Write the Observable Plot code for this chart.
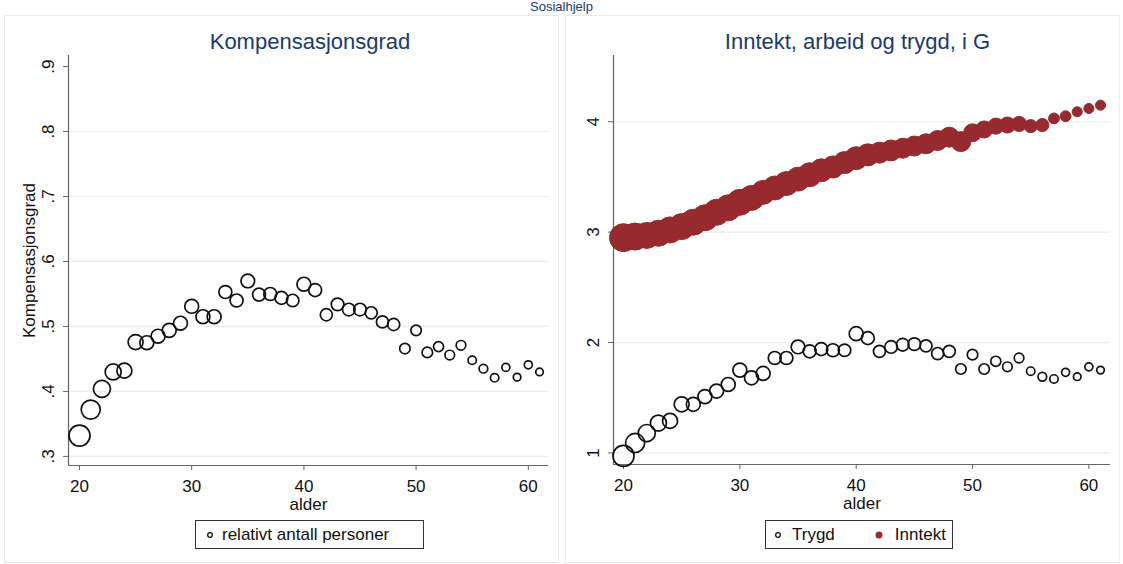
<!DOCTYPE html>
<html>
<head>
<meta charset="utf-8">
<script src="https://cdn.jsdelivr.net/npm/d3@7"></script>
<script src="https://cdn.jsdelivr.net/npm/@observablehq/plot@0.6"></script>
<style>
  html, body { margin: 0; padding: 0; background: #ffffff; }
  body { width: 1123px; height: 564px; position: relative; overflow: hidden; font-family: "Liberation Sans", Arial, sans-serif; }
  .abs { position: absolute; }
  .panel { position: absolute; border: 1px solid #ebebeb; }
  .title { position: absolute; width: 1123px; text-align: center; top: 0px; font-size: 13px; line-height: 14px; color: #1a3b6b; }
  .sub { position: absolute; text-align: center; font-size: 22px; color: #1a3b6b; }
  .legend { position: absolute; border: 1px solid #333; background: #fff; font-size: 17px; color: #111; box-sizing: border-box; display: flex; align-items: center; }
  .legend svg { display: block; }
</style>
</head>
<body>
<div class="panel" style="left:4px; top:15px; width:553px; height:546px;"></div>
<div class="panel" style="left:565px; top:15px; width:553px; height:546px;"></div>
<div class="title">Sosialhjelp</div>
<div class="sub" style="left:60px; width:500px; top:29px;">Kompensasjonsgrad</div>
<div class="sub" style="left:600px; width:515px; top:29px;">Inntekt, arbeid og trygd, i G</div>
<div id="left" class="abs" style="left:0px; top:52px;"></div>
<div id="right" class="abs" style="left:560px; top:52px;"></div>
<div class="legend" style="left:195px; top:520px; width:229px; height:29px;">
  <svg width="22" height="20" style="margin-left:4px"><circle cx="10" cy="10" r="2.3" fill="none" stroke="#111" stroke-width="1.3"/></svg>
  <span style="margin-left:0px">relativt antall personer</span>
</div>
<div class="legend" style="left:765px; top:520px; width:188px; height:29px;">
  <svg width="24" height="20" style="margin-left:2px"><circle cx="10" cy="10" r="2.3" fill="none" stroke="#111" stroke-width="1.3"/></svg>
  <span>Trygd</span>
  <svg width="24" height="20" style="margin-left:34px"><circle cx="10" cy="10" r="3.5" fill="#962a2f"/></svg>
  <span style="margin-left:2px">Inntekt</span>
</div>
<script>
// Age categories
const alder = [20,21,22,23,24,25,26,27,28,29,30,31,32,33,34,35,36,37,38,39,40,41,42,43,44,45,46,47,48,49,50,51,52,53,54,55,56,57,58,59,60,61];
// Kompensasjonsgrad (left panel)
const kompensasjonsgrad = [0.332,0.372,0.404,0.430,0.432,0.476,0.475,0.485,0.494,0.505,0.531,0.515,0.515,0.553,0.540,0.570,0.549,0.550,0.544,0.540,0.565,0.556,0.518,0.534,0.526,0.526,0.521,0.507,0.503,0.466,0.494,0.460,0.469,0.456,0.471,0.448,0.435,0.421,0.437,0.422,0.441,0.430];
// Trygd, in G (right panel)
const trygd = [0.973,1.09,1.18,1.27,1.29,1.44,1.44,1.51,1.56,1.62,1.75,1.68,1.72,1.86,1.86,1.96,1.92,1.94,1.93,1.93,2.08,2.04,1.92,1.96,1.98,1.985,1.97,1.90,1.92,1.76,1.89,1.76,1.83,1.78,1.86,1.74,1.69,1.67,1.73,1.69,1.78,1.75];
// Inntekt, in G (right panel)
const inntekt = [2.95,2.96,2.97,2.99,3.02,3.05,3.09,3.13,3.18,3.22,3.27,3.31,3.36,3.40,3.44,3.48,3.52,3.56,3.59,3.63,3.67,3.70,3.72,3.74,3.76,3.78,3.80,3.83,3.86,3.82,3.90,3.93,3.96,3.97,3.98,3.96,3.97,4.03,4.05,4.09,4.12,4.15];
// Relative number of persons (marker weight, hollow circles)
const relativtAntall = [1.00,0.82,0.66,0.58,0.51,0.51,0.44,0.44,0.44,0.44,0.44,0.44,0.44,0.38,0.38,0.42,0.38,0.38,0.38,0.35,0.44,0.38,0.33,0.36,0.36,0.36,0.33,0.33,0.33,0.25,0.25,0.25,0.23,0.21,0.21,0.16,0.17,0.16,0.145,0.13,0.145,0.13];
// Relative marker weight of the Inntekt dots
const inntektVekt = [1.00,0.93,0.86,0.86,0.86,0.86,0.86,0.86,0.86,0.86,0.86,0.80,0.73,0.73,0.73,0.73,0.73,0.67,0.62,0.62,0.67,0.62,0.56,0.56,0.51,0.51,0.51,0.51,0.51,0.51,0.41,0.37,0.33,0.33,0.29,0.22,0.22,0.15,0.15,0.13,0.13,0.13];

const xTicks = [20,30,40,50,60];
const yTicksLeft = [0.3,0.4,0.5,0.6,0.7,0.8,0.9];
const yTicksRight = [1,2,3,4];

const rows = alder.map((a, i) => ({alder: a, komp: kompensasjonsgrad[i], trygd: trygd[i], inntekt: inntekt[i], w: relativtAntall[i], iw: inntektVekt[i]}));

const font = {fontFamily: "'Liberation Sans', Arial, sans-serif", fontSize: "17px", color: "#111", background: "transparent"};
const axisCol = "#666";
const gridCol = "#ececec";
const red = "#962a2f";

// Left panel
const lx = [19.02, 61.8], ly = [0.286, 0.917];
const left = Plot.plot({
  width: 560, height: 460,
  marginLeft: 68, marginRight: 12, marginTop: 3, marginBottom: 47,
  style: font,
  x: {domain: lx},
  y: {domain: ly},
  r: {type: "sqrt", domain: [0, 1], range: [0, 10.5]},
  marks: [
    Plot.gridY(yTicksLeft.slice(0, -1), {stroke: gridCol, strokeOpacity: 1, strokeWidth: 1.2}),
    Plot.axisY(yTicksLeft, {tickFormat: d => d3.format(".1f")(d).replace(/^0/, ""), tickRotate: -90, tickSize: 5, tickPadding: 10, stroke: axisCol, label: "Kompensasjonsgrad", labelAnchor: "center", labelArrow: "none", labelOffset: 46, fontSize: 17}),
    Plot.axisX(xTicks, {tickFormat: d => String(d), tickSize: 5, tickPadding: 9, stroke: axisCol, label: "alder", labelAnchor: "center", labelArrow: "none", labelOffset: 44}),
    Plot.ruleX([lx[0]], {stroke: axisCol, strokeWidth: 1.2}),
    Plot.ruleY([ly[0]], {stroke: axisCol, strokeWidth: 1.2}),
    Plot.dot(rows, {x: "alder", y: "komp", r: "w", stroke: "#111", strokeWidth: 1.7, fill: "none"})
  ]
});
document.getElementById("left").appendChild(left);

// Right panel
const rx = [19.14, 61.86], ry = [0.895, 4.6];
const right = Plot.plot({
  width: 563, height: 460,
  marginLeft: 53, marginRight: 13, marginTop: 3, marginBottom: 48,
  style: font,
  x: {domain: rx},
  y: {domain: ry},
  r: {type: "sqrt", domain: [0, 1], range: [0, 10.5]},
  marks: [
    Plot.gridY(yTicksRight, {stroke: gridCol, strokeOpacity: 1, strokeWidth: 1.2}),
    Plot.axisY(yTicksRight, {tickFormat: d => String(d), tickRotate: -90, tickSize: 5, tickPadding: 10, stroke: axisCol, label: null}),
    Plot.axisX(xTicks, {tickFormat: d => String(d), tickSize: 5, tickPadding: 9, stroke: axisCol, label: "alder", labelAnchor: "center", labelArrow: "none", labelOffset: 44}),
    Plot.ruleX([rx[0]], {stroke: axisCol, strokeWidth: 1.2}),
    Plot.ruleY([ry[0]], {stroke: axisCol, strokeWidth: 1.2}),
    Plot.dot(rows, {x: "alder", y: "inntekt", r: d => d.iw * 1.78, fill: red, stroke: red, strokeWidth: 1, sort: null}),
    Plot.dot(rows, {x: "alder", y: "trygd", r: "w", stroke: "#111", strokeWidth: 1.7, fill: "none"})
  ]
});
document.getElementById("right").appendChild(right);
</script>
</body>
</html>
